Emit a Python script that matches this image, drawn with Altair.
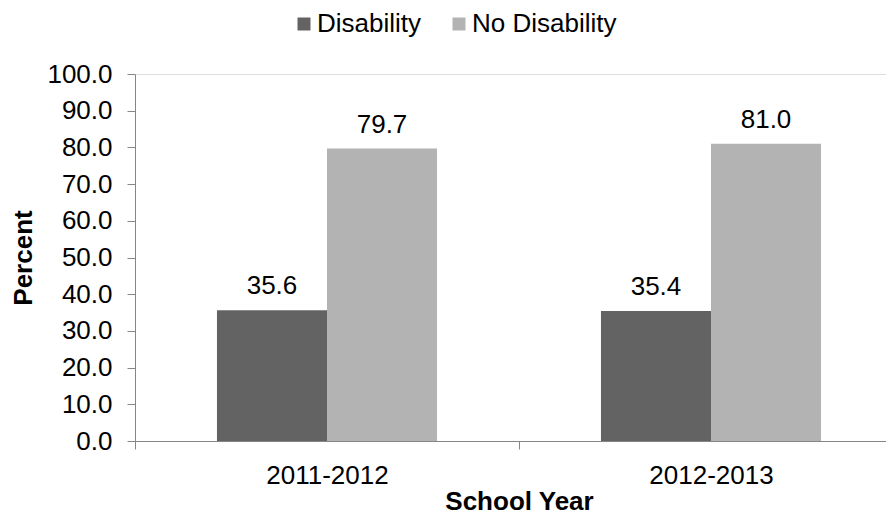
import altair as alt
import pandas as pd

years = ["2011-2012", "2012-2013"]
groups = ["Disability", "No Disability"]
disability = [35.6, 35.4]
no_disability = [79.7, 81.0]
y_ticks = [0, 10, 20, 30, 40, 50, 60, 70, 80, 90, 100]

rows = []
for i, yr in enumerate(years):
    rows.append({"year": yr, "group": groups[0], "value": disability[i]})
    rows.append({"year": yr, "group": groups[1], "value": no_disability[i]})
df = pd.DataFrame(rows)

FONT = "Liberation Sans"
colors = ["#636363", "#b3b3b3"]
axis_gray = "#868686"

x_enc = alt.X(
    "year:N", sort=years, title="School Year",
    scale=alt.Scale(paddingInner=0, paddingOuter=0, range=[0, 768]),
    axis=alt.Axis(labelAngle=0, tickBand="extent", tickSize=8, labelPadding=13,
                  titlePadding=0, labelFontSize=26, titleFontSize=26,
                  labelFont=FONT, titleFont=FONT, titleFontWeight="bold",
                  domainColor=axis_gray, tickColor=axis_gray,
                  labelColor="black", titleColor="black", grid=False),
)
xoff_enc = alt.XOffset("group:N", sort=groups,
                       scale=alt.Scale(paddingInner=0, paddingOuter=0.745))
y_enc = alt.Y(
    "value:Q", title="Percent",
    scale=alt.Scale(domain=[0, 100], nice=False),
    axis=alt.Axis(values=y_ticks, format=".1f", tickSize=8, labelPadding=15,
                  titlePadding=10, labelFontSize=26, titleFontSize=26,
                  labelFont=FONT, titleFont=FONT, titleFontWeight="bold",
                  domainColor=axis_gray, tickColor=axis_gray,
                  labelColor="black", titleColor="black", grid=False),
)

bars = alt.Chart(df).mark_bar().encode(
    x=x_enc, xOffset=xoff_enc, y=y_enc,
    color=alt.Color("group:N", sort=groups,
                    scale=alt.Scale(domain=groups, range=colors),
                    legend=alt.Legend(title=None, orient="none", legendX=156, legendY=-63,
                                      direction="horizontal", symbolType="square",
                                      symbolSize=169, symbolStrokeWidth=0,
                                      labelFontSize=26, labelFont=FONT, labelColor="black",
                                      columnPadding=24, labelOffset=0, padding=0)),
)

labels = alt.Chart(df).mark_text(dy=-16, baseline="alphabetic", fontSize=26,
                                 font=FONT, color="black").encode(
    x=x_enc, xOffset=xoff_enc, y=y_enc,
    text=alt.Text("value:Q", format=".1f"),
)

chart = alt.layer(bars, labels).properties(
    width=751, height=367, autosize="none",
    padding={"left": 127, "top": 66, "right": 0, "bottom": 76},
).configure_view(stroke=None).configure(background="white")

chart.save("out.html", embed_options={"renderer": "svg", "actions": False})
